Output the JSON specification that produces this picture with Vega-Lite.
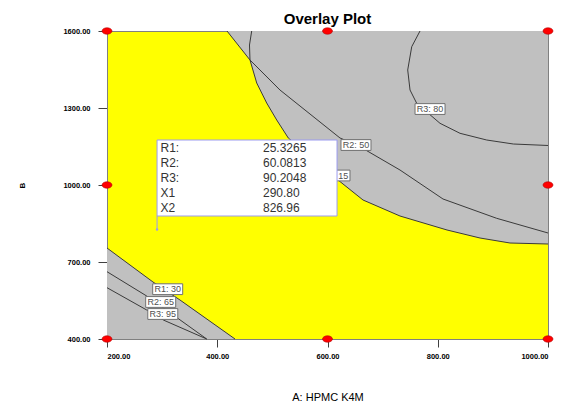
{
  "$schema": "https://vega.github.io/schema/vega-lite/v6.json",
  "width": 441,
  "height": 308,
  "autosize": {"type": "none"},
  "padding": {"left": 107, "top": 31, "right": 24, "bottom": 68},
  "background": "white",
  "title": {"text": "Overlay Plot", "fontSize": 15, "font": "Liberation Sans", "fontWeight": "bold", "color": "black", "offset": 0, "anchor": "middle"},
  "config": {
    "view": {"fill": "#ffff00", "stroke": "#808080", "strokeWidth": 1},
    "axis": {"grid": false, "domainColor": "#808080", "tickColor": "#404040", "labelFont": "Liberation Sans", "labelFontWeight": "bold", "labelFontSize": 7.5, "labelColor": "black", "titleFont": "Liberation Sans", "titleColor": "black"}
  },
  "datasets": {
    "upper": [
      {"x": 417.7, "y": 1600}, {"x": 459.4, "y": 1487}, {"x": 471.6, "y": 1397.4}, {"x": 489.7, "y": 1319.5},
      {"x": 507.9, "y": 1253.2}, {"x": 528.9, "y": 1183.1}, {"x": 619.1, "y": 1019.5}, {"x": 664.4, "y": 941.6},
      {"x": 731.5, "y": 879.2}, {"x": 816.8, "y": 824.7}, {"x": 876.7, "y": 793.5}, {"x": 931.1, "y": 774}, {"x": 1000, "y": 770.1}
    ],
    "lower": [
      {"x": 200, "y": 754.5}, {"x": 283.4, "y": 622.1}, {"x": 332.4, "y": 551.9}, {"x": 432.2, "y": 400}
    ],
    "contours": [
      {"c": "R2_50", "i": 1, "x": 417.7, "y": 1600}, {"c": "R2_50", "i": 2, "x": 459.4, "y": 1487}, {"c": "R2_50", "i": 3, "x": 513.8, "y": 1370.1},
      {"c": "R2_50", "i": 4, "x": 622.7, "y": 1183.1}, {"c": "R2_50", "i": 5, "x": 653.5, "y": 1155.8}, {"c": "R2_50", "i": 6, "x": 731.5, "y": 1058.4},
      {"c": "R2_50", "i": 7, "x": 809.5, "y": 945.5}, {"c": "R2_50", "i": 8, "x": 906.8, "y": 870.3}, {"c": "R2_50", "i": 9, "x": 1000, "y": 813},
      {"c": "R1_15", "i": 1, "x": 462.5, "y": 1600}, {"c": "R1_15", "i": 2, "x": 458.5, "y": 1545.5}, {"c": "R1_15", "i": 3, "x": 459.4, "y": 1487},
      {"c": "R1_15", "i": 4, "x": 471.6, "y": 1397.4}, {"c": "R1_15", "i": 5, "x": 489.7, "y": 1319.5}, {"c": "R1_15", "i": 6, "x": 507.9, "y": 1253.2},
      {"c": "R1_15", "i": 7, "x": 528.9, "y": 1183.1}, {"c": "R1_15", "i": 8, "x": 619.1, "y": 1019.5}, {"c": "R1_15", "i": 9, "x": 664.4, "y": 941.6},
      {"c": "R1_15", "i": 10, "x": 731.5, "y": 879.2}, {"c": "R1_15", "i": 11, "x": 816.8, "y": 824.7}, {"c": "R1_15", "i": 12, "x": 876.7, "y": 793.5},
      {"c": "R1_15", "i": 13, "x": 931.1, "y": 774}, {"c": "R1_15", "i": 14, "x": 1000, "y": 770.1},
      {"c": "R3_80", "i": 1, "x": 767.8, "y": 1600}, {"c": "R3_80", "i": 2, "x": 752.8, "y": 1538.8}, {"c": "R3_80", "i": 3, "x": 745.5, "y": 1448.1},
      {"c": "R3_80", "i": 4, "x": 749.7, "y": 1370.1}, {"c": "R3_80", "i": 5, "x": 761.8, "y": 1318.3}, {"c": "R3_80", "i": 6, "x": 804.1, "y": 1240.4},
      {"c": "R3_80", "i": 7, "x": 840.4, "y": 1201.4}, {"c": "R3_80", "i": 8, "x": 888.8, "y": 1175.3}, {"c": "R3_80", "i": 9, "x": 937.1, "y": 1159.7},
      {"c": "R3_80", "i": 10, "x": 1000, "y": 1153.9},
      {"c": "R1_30", "i": 1, "x": 200, "y": 754.5}, {"c": "R1_30", "i": 2, "x": 283.4, "y": 622.1}, {"c": "R1_30", "i": 3, "x": 332.4, "y": 551.9}, {"c": "R1_30", "i": 4, "x": 432.2, "y": 400},
      {"c": "R2_65", "i": 1, "x": 200, "y": 662.2}, {"c": "R2_65", "i": 2, "x": 272, "y": 567.5}, {"c": "R2_65", "i": 3, "x": 380.9, "y": 400},
      {"c": "R3_95", "i": 1, "x": 200, "y": 599.9}, {"c": "R3_95", "i": 2, "x": 272, "y": 513}, {"c": "R3_95", "i": 3, "x": 302.2, "y": 474}, {"c": "R3_95", "i": 4, "x": 380.9, "y": 400}
    ],
    "labels": [
      {"t": "R3: 80", "x": 786, "y": 1296}, {"t": "R2: 50", "x": 651.7, "y": 1155.8}, {"t": "R1: 15", "x": 613.6, "y": 1037},
      {"t": "R1: 30", "x": 310.1, "y": 594}, {"t": "R2: 65", "x": 297.4, "y": 544.2}, {"t": "R3: 95", "x": 301.2, "y": 497.4}
    ],
    "flag": [{"x": 290.8, "y": 826.96, "top": 879.2, "x2": 617.3, "ytop": 1175.3}],
    "info": [
      {"k": "R1:", "v": "25.3265", "kx": 297, "vx": 483, "y": 1144.2}, {"k": "R2:", "v": "60.0813", "kx": 297, "vx": 483, "y": 1085.7},
      {"k": "R3:", "v": "90.2048", "kx": 297, "vx": 483, "y": 1027.3}, {"k": "X1", "v": "290.80", "kx": 297, "vx": 483, "y": 968.8},
      {"k": "X2", "v": "826.96", "kx": 297, "vx": 483, "y": 910.4}
    ],
    "design": [
      {"x": 200, "y": 400}, {"x": 200, "y": 1000}, {"x": 200, "y": 1600}, {"x": 600, "y": 400},
      {"x": 600, "y": 1600}, {"x": 1000, "y": 400}, {"x": 1000, "y": 1000}, {"x": 1000, "y": 1600}
    ]
  },
  "encoding": {
    "x": {"field": "x", "type": "quantitative", "scale": {"domain": [200, 1000], "nice": false, "zero": false},
      "axis": {"values": [200, 400, 600, 800, 1000], "format": ".2f", "tickSize": 8, "labelPadding": 5, "title": "A: HPMC K4M", "titleFontSize": 11, "titleFontWeight": "normal", "titlePadding": 32}},
    "y": {"field": "y", "type": "quantitative", "scale": {"domain": [400, 1600], "nice": false, "zero": false},
      "axis": {"values": [400, 700, 1000, 1300, 1600], "format": ".2f", "tickSize": 9, "labelPadding": 8, "title": "B", "titleFontSize": 8, "titleFontWeight": "bold", "titlePadding": 36}}
  },
  "layer": [
    {"data": {"name": "upper"}, "mark": {"type": "area", "color": "#c0c0c0", "opacity": 1}, "encoding": {"y2": {"datum": 1600}}},
    {"data": {"name": "lower"}, "mark": {"type": "area", "color": "#c0c0c0", "opacity": 1}, "encoding": {"y2": {"datum": 400}}},
    {"data": {"name": "contours"}, "mark": {"type": "line", "color": "#3a3a3a", "strokeWidth": 1}, "encoding": {"detail": {"field": "c"}, "order": {"field": "i", "type": "quantitative"}}},
    {"data": {"name": "labels"}, "mark": {"type": "point", "shape": "M-1,-0.36H1V0.36H-1Z", "size": 900, "filled": true, "fill": "white", "stroke": "#707070", "strokeWidth": 1, "opacity": 1}},
    {"data": {"name": "labels"}, "mark": {"type": "text", "font": "Liberation Sans", "fontSize": 9, "color": "#505050", "baseline": "middle", "align": "center"}, "encoding": {"text": {"field": "t"}}},
    {"data": {"name": "flag"}, "mark": {"type": "rect", "fill": "white", "stroke": "#9b9bef", "strokeWidth": 1}, "encoding": {"x2": {"field": "x2"}, "y": {"field": "ytop", "type": "quantitative"}, "y2": {"field": "top"}}},
    {"data": {"name": "flag"}, "mark": {"type": "rule", "color": "#9b9bef", "strokeWidth": 1}, "encoding": {"y2": {"field": "top"}}},
    {"data": {"name": "flag"}, "mark": {"type": "point", "shape": "circle", "size": 6, "filled": true, "color": "#9b9bef", "opacity": 1}},
    {"data": {"name": "info"}, "mark": {"type": "text", "font": "Liberation Sans", "fontSize": 12, "color": "#333333", "align": "left", "baseline": "middle"}, "encoding": {"x": {"field": "kx", "type": "quantitative"}, "text": {"field": "k"}}},
    {"data": {"name": "info"}, "mark": {"type": "text", "font": "Liberation Sans", "fontSize": 12, "color": "#333333", "align": "left", "baseline": "middle"}, "encoding": {"x": {"field": "vx", "type": "quantitative"}, "text": {"field": "v"}}},
    {"data": {"name": "design"}, "mark": {"type": "point", "shape": "M-1,0A1,0.65,0,1,0,1,0A1,0.65,0,1,0,-1,0Z", "size": 100, "filled": true, "fill": "#ff0000", "stroke": "#b00000", "strokeWidth": 0.6, "opacity": 1, "clip": false}}
  ]
}
